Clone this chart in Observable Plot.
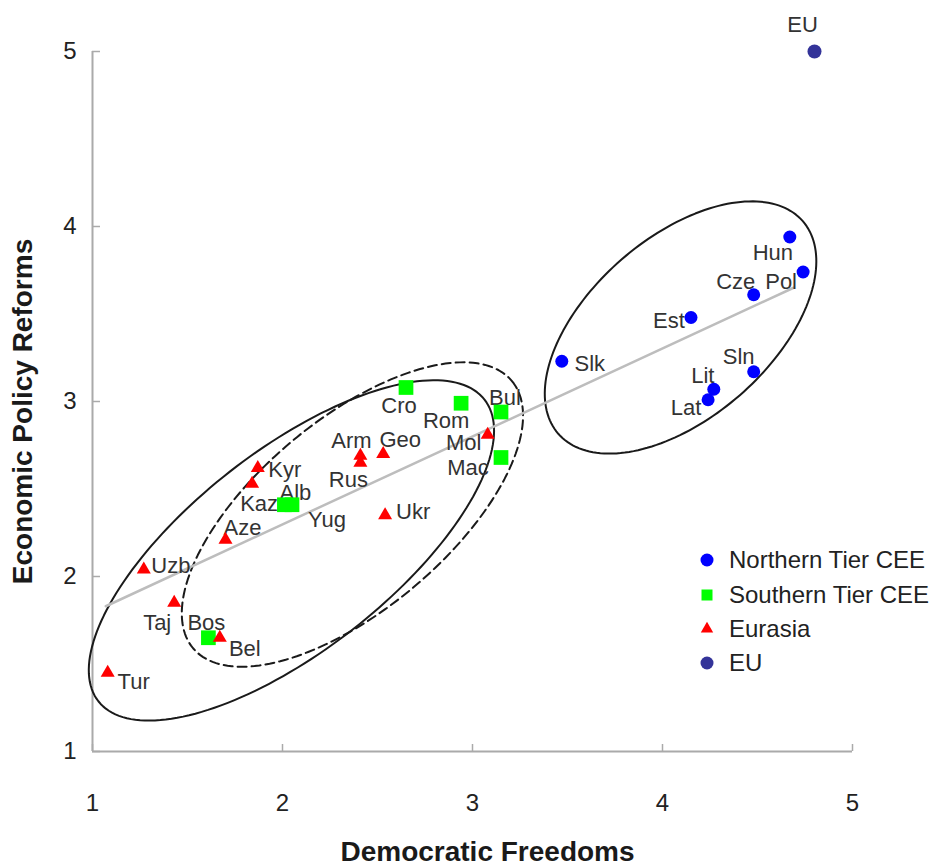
<!DOCTYPE html>
<html><head><meta charset="utf-8">
<script src="https://cdn.jsdelivr.net/npm/d3@7"></script>
<script src="https://cdn.jsdelivr.net/npm/@observablehq/plot@0.6"></script>
<style>
body{margin:0;background:#fff}
#chart{width:950px;height:868px}
</style>
</head><body><div id="chart"></div>
<script>
// ---- data ----
const northernNames = ["Hun","Pol","Cze","Est","Slk","Sln","Lit","Lat"];
const northernDem   = [4.67, 4.74, 4.48, 4.15, 3.47, 4.48, 4.27, 4.24];
const northernEcon  = [3.94, 3.74, 3.61, 3.48, 3.23, 3.17, 3.07, 3.01];

const southernNames = ["Cro","Rom","Bul","Mac","Alb","Yug","Bos"];
const southernDem   = [2.65, 2.94, 3.15, 3.15, 2.01, 2.05, 1.61];
const southernEcon  = [3.08, 2.99, 2.94, 2.68, 2.41, 2.41, 1.65];

const eurasiaNames = ["Mol","Arm","Rus","Geo","Kyr","Kaz","Ukr","Aze","Uzb","Taj","Bel","Tur"];
const eurasiaDem   = [3.08, 2.41, 2.41, 2.53, 1.87, 1.84, 2.54, 1.70, 1.27, 1.43, 1.67, 1.08];
const eurasiaEcon  = [2.81, 2.69, 2.65, 2.70, 2.62, 2.53, 2.35, 2.21, 2.04, 1.85, 1.65, 1.45];

const euNames = ["EU"];
const euDem   = [4.80];
const euEcon  = [5.00];

const trendDem  = [1.07, 4.69];
const trendEcon = [1.83, 3.65];

const xTicks = [1, 2, 3, 4, 5];
const yTicks = [1, 2, 3, 4, 5];
const legendLabels = ["Northern Tier CEE", "Southern Tier CEE", "Eurasia", "EU"];
const xTitle = "Democratic Freedoms";
const yTitle = "Economic Policy Reforms";

// ---- layout / style ----
const W = 950, H = 868, ML = 92, MR = 98, MT = 51, MB = 117;
const kx = (W - ML - MR) / 4, ky = (H - MT - MB) / 4;
const FONT = "'Liberation Sans', Arial, Helvetica, sans-serif";
const COLORS = {northern: "#0000ff", southern: "#00ff00", eurasia: "#ff0000", eu: "#333399"};

// label offsets in pixels [dx, dy]
const labelOffset = {
  EU:[-12,-27], Hun:[-17,16], Cze:[-18,-13], Pol:[-22,10], Est:[-22,3], Slk:[28,3],
  Sln:[-15,-15], Lit:[-11,-13], Lat:[-22,8],
  Cro:[-7,18], Rom:[-15,18], Bul:[4,-14], Mac:[-33,10], Alb:[11,-12], Yug:[35,15], Bos:[-2,-15],
  Mol:[-24,8], Arm:[-9,-15], Rus:[-12,17], Geo:[17,-14], Kyr:[27,2], Kaz:[7,20], Ukr:[28,-3],
  Aze:[17,-12], Uzb:[27,-4], Taj:[-17,20], Bel:[25,11], Tur:[26,9]
};

// ellipse annotations: centre in data units, semi-axes in pixels, angle in degrees
const ellipses = [
  {id: "north", cx: 4.095, cy: 3.423, a: 162, b: 90, angle: 41, dashed: false},
  {id: "southSolid", cx: 2.047, cy: 2.149, a: 245, b: 100, angle: 38, dashed: false},
  {id: "southDashed", cx: 2.368, cy: 2.354, a: 208, b: 95, angle: 40, dashed: true}
];

function table(names, dem, econ) {
  return names.map((n, i) => ({name: n, dem: dem[i], econ: econ[i]}));
}
const northern = table(northernNames, northernDem, northernEcon);
const southern = table(southernNames, southernDem, southernEcon);
const eurasia  = table(eurasiaNames, eurasiaDem, eurasiaEcon);
const eu       = table(euNames, euDem, euEcon);
const allPts = [...northern, ...southern, ...eurasia, ...eu];
const trend = trendDem.map((d, i) => ({dem: d, econ: trendEcon[i]}));

function ellipsePts(e) {
  const th = e.angle * Math.PI / 180, pts = [];
  for (let i = 0; i <= 180; i++) {
    const t = i / 180 * 2 * Math.PI;
    const px = e.a * Math.cos(t) * Math.cos(th) + e.b * Math.sin(t) * Math.sin(th);
    const py = -e.a * Math.cos(t) * Math.sin(th) + e.b * Math.sin(t) * Math.cos(th);
    pts.push({x: e.cx + px / kx, y: e.cy - py / ky});
  }
  return pts;
}

const labelMarks = allPts.map(d => Plot.text([d], {
  x: "dem", y: "econ", text: "name",
  dx: labelOffset[d.name][0], dy: labelOffset[d.name][1],
  textAnchor: "middle", lineAnchor: "middle",
  fontSize: 22, fill: "#333"
}));

const ellipseMarks = ellipses.map(e => Plot.line(ellipsePts(e), {
  x: "x", y: "y", stroke: "#1a1a1a", strokeWidth: 2,
  strokeDasharray: e.dashed ? "9,5" : null
}));

const chart = Plot.plot({
  width: W, height: H,
  marginLeft: ML, marginRight: MR, marginTop: MT, marginBottom: MB,
  x: {domain: [1, 5], axis: null},
  y: {domain: [1, 5], axis: null},
  style: {fontFamily: FONT, background: "#fff", overflow: "visible"},
  marks: [
    // axes
    Plot.ruleY([1], {x1: 1, x2: 5, stroke: "#aaa", strokeWidth: 2}),
    Plot.ruleX([1], {y1: 1, y2: 5, stroke: "#aaa", strokeWidth: 2}),
    Plot.ruleX(xTicks, {x: d => d, y1: 1, y2: 1 + 7 / ky, stroke: "#aaa", strokeWidth: 1.5}),
    Plot.ruleY(yTicks, {y: d => d, x1: 1, x2: 1 + 8 / kx, stroke: "#aaa", strokeWidth: 1.5}),
    Plot.text(xTicks, {x: d => d, frameAnchor: "bottom", dy: 52, text: d => String(d),
      fontSize: 24, fill: "#222", lineAnchor: "middle"}),
    Plot.text(yTicks, {y: d => d, frameAnchor: "left", dx: -16, text: d => String(d),
      fontSize: 24, fill: "#222", textAnchor: "end", lineAnchor: "middle"}),
    Plot.text([xTitle], {frameAnchor: "bottom", dx: 15, dy: 101, fontSize: 28,
      fontWeight: "bold", fill: "#1a1a1a", textAnchor: "middle", lineAnchor: "middle", letterSpacing: 1}),
    Plot.text([yTitle], {frameAnchor: "left", dx: -69, dy: 10, rotate: -90, fontSize: 28,
      fontWeight: "bold", fill: "#1a1a1a", textAnchor: "middle", lineAnchor: "middle", letterSpacing: 1}),
    // annotations
    ...ellipseMarks,
    Plot.line(trend, {x: "dem", y: "econ", stroke: "#bdbdbd", strokeWidth: 2.5}),
    // labels
    ...labelMarks,
    // points
    Plot.dot(northern, {x: "dem", y: "econ", r: 6.5, symbol: "circle", fill: COLORS.northern}),
    Plot.dot(southern, {x: "dem", y: "econ", r: 8.3, symbol: "square", fill: COLORS.southern}),
    Plot.dot(eurasia, {x: "dem", y: "econ", r: 5.2, symbol: "triangle", fill: COLORS.eurasia}),
    Plot.dot(eu, {x: "dem", y: "econ", r: 7, symbol: "circle", fill: COLORS.eu})
  ]
});

document.getElementById("chart").appendChild(chart);

// legend (inside plot area, right)
const svg = d3.select(chart.tagName.toLowerCase() === "svg" ? chart : chart.querySelector("svg"));
const lg = svg.append("g").attr("font-family", FONT).attr("font-size", 24)
  .attr("fill", "#222").attr("text-anchor", "start");
const legendSymbols = [
  {sym: d3.symbolCircle, size: Math.PI * 6.5 * 6.5, color: COLORS.northern},
  {sym: d3.symbolSquare, size: 11 * 11, color: COLORS.southern},
  {sym: d3.symbolTriangle, size: Math.PI * 4.6 * 4.6, color: COLORS.eurasia},
  {sym: d3.symbolCircle, size: Math.PI * 6.5 * 6.5, color: COLORS.eu}
];
const legendY = [560, 595, 629, 663];
legendLabels.forEach((lab, i) => {
  const s = legendSymbols[i];
  lg.append("path").attr("d", d3.symbol(s.sym, s.size)())
    .attr("transform", `translate(707,${legendY[i]})`).attr("fill", s.color);
  lg.append("text").attr("x", 729).attr("y", legendY[i]).attr("dy", "0.35em")
    .attr("text-anchor", "start").text(lab);
});
</script>
</body></html>
